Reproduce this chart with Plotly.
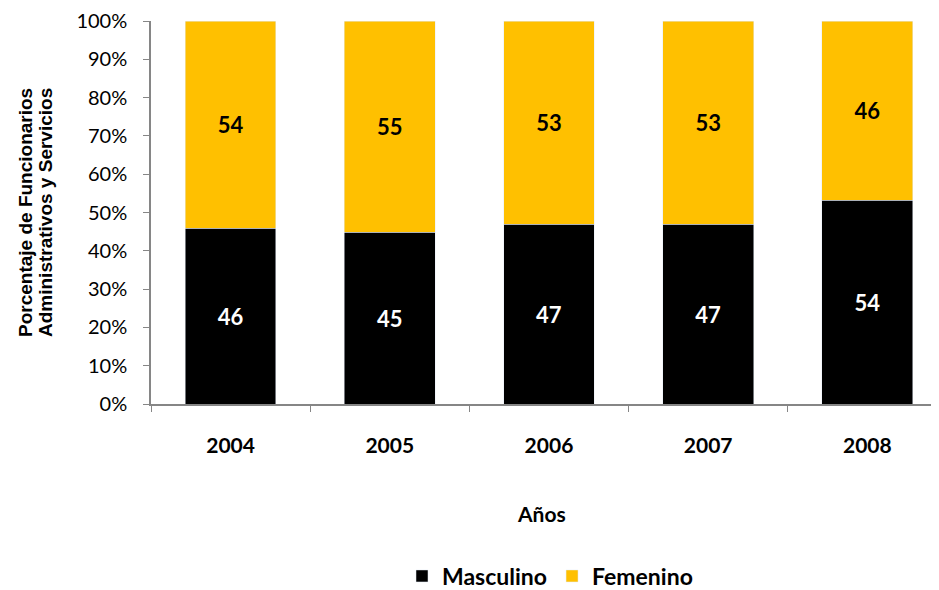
import plotly.graph_objects as go

years = ["2004", "2005", "2006", "2007", "2008"]
masculino = [45.9, 44.9, 46.9, 46.9, 53.2]
femenino = [54.1, 55.1, 53.1, 53.1, 46.8]
masc_labels = ["46", "45", "47", "47", "54"]
fem_labels = ["54", "55", "53", "53", "46"]
y_ticks = [0, 10, 20, 30, 40, 50, 60, 70, 80, 90, 100]
y_tick_text = [f"{v}%" for v in y_ticks]

LBL_FONT = "Lato, Open Sans, sans-serif"
OFF = 8  # browser default body margin
W, H = 939 - OFF, 590 - OFF
PLOT_LEFT, PLOT_RIGHT = 151 - OFF, 939 - OFF
PLOT_TOP, PLOT_BOTTOM = 21 - OFF, 404 - OFF
PH = PLOT_BOTTOM - PLOT_TOP
PW = PLOT_RIGHT - PLOT_LEFT


def px_x(x):
    return (x - OFF - PLOT_LEFT) / PW


def px_y(y):
    return (PLOT_BOTTOM - (y - OFF)) / PH


fig = go.Figure()
fig.add_trace(go.Bar(
    x=years, y=masculino, name="Masculino", marker_color="#000000",
    text=masc_labels, textposition="inside", insidetextanchor="middle",
    textfont=dict(color="white", size=22, family=LBL_FONT, weight="bold"),
    textangle=0,
))
fig.add_trace(go.Bar(
    x=years, y=femenino, name="Femenino", marker_color="#FFC000",
    text=fem_labels, textposition="inside", insidetextanchor="middle",
    textfont=dict(color="black", size=22, family=LBL_FONT, weight="bold"),
    textangle=0,
))

fig.update_layout(
    barmode="stack",
    bargap=0.43,
    width=W, height=H,
    margin=dict(l=PLOT_LEFT, r=W - PLOT_RIGHT, t=PLOT_TOP, b=H - PLOT_BOTTOM, autoexpand=False),
    plot_bgcolor="white", paper_bgcolor="white",
    font=dict(family=LBL_FONT, color="black"),
    showlegend=True,
    legend=dict(orientation="h", x=px_x(550), xanchor="center",
                y=px_y(576), yanchor="middle",
                font=dict(size=23, family=LBL_FONT, weight="bold"), traceorder="normal",
                itemwidth=30),
    uniformtext=dict(mode=False),
)
fig.update_yaxes(
    range=[0, 100], tickvals=y_ticks, ticktext=y_tick_text, automargin=False,
    showgrid=False, showline=True, linecolor="#868686", linewidth=1.5,
    ticks="outside", ticklen=6, tickcolor="#868686",
    tickfont=dict(size=20, family=LBL_FONT),
    ticklabelstandoff=12, ticklabeloverflow="allow",
)
fig.update_xaxes(
    range=[-0.5, 4.45], automargin=False,
    showgrid=False, showline=True, linecolor="#868686", linewidth=1.5,
    ticks="outside", tickson="boundaries", ticklen=6, tickcolor="#868686",
    tickfont=dict(size=21, family=LBL_FONT, weight="bold"),
    ticklabelstandoff=22,
)
fig.add_annotation(text="Años", xref="paper", yref="paper", x=px_x(541),
                   y=px_y(513),
                   yanchor="middle", xanchor="center", showarrow=False,
                   font=dict(size=21, family=LBL_FONT, weight="bold"))
YT_FONT = dict(size=19, family="Liberation Sans, Arial, sans-serif", weight="bold")
fig.add_annotation(text="Porcentaje de Funcionarios",
                   xref="paper", yref="paper", x=px_x(25),
                   y=px_y(213), textangle=-90,
                   xanchor="center", yanchor="middle", showarrow=False, font=YT_FONT)
fig.add_annotation(text="Administrativos y Servicios",
                   xref="paper", yref="paper", x=px_x(45),
                   y=px_y(213), textangle=-90,
                   xanchor="center", yanchor="middle", showarrow=False, font=YT_FONT)

fig.write_html("out.html")
